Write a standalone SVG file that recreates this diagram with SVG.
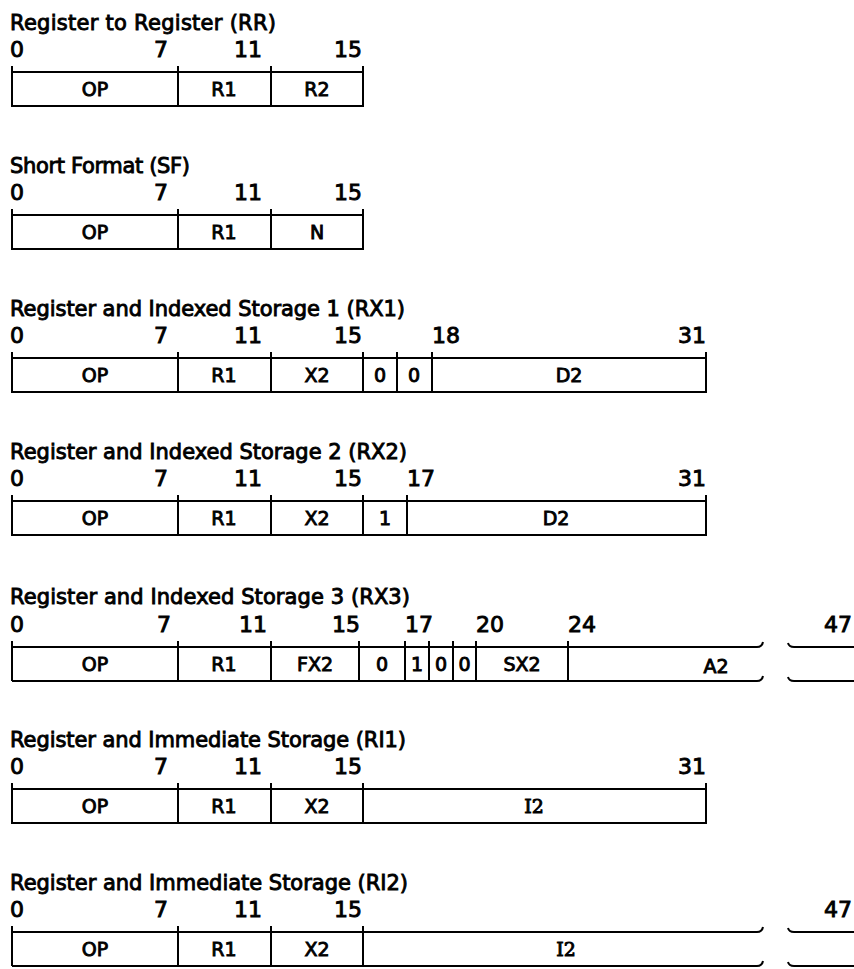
<svg xmlns="http://www.w3.org/2000/svg" width="854" height="969" viewBox="0 0 854 969">
<style>
text{font-family:"DejaVu Sans","Liberation Sans",sans-serif;fill:#000;stroke:#000;stroke-width:0.9px}
.ttl{font-size:21px}
.num{font-size:22px}
.e{text-anchor:end}
.fld{font-size:19px;text-anchor:middle}
.sf{font-family:"DejaVu Serif","Liberation Serif",serif}
.ln{stroke:#000;stroke-width:2;fill:none}
</style>
<rect width="854" height="969" fill="#fff"/>

<g id="rr">
<text class="ttl" x="10" y="30" textLength="266" lengthAdjust="spacing">Register to Register (RR)</text>
<text class="num" x="10" y="57">0</text>
<text class="num e" x="168" y="57">7</text>
<text class="num e" x="262" y="57">11</text>
<text class="num e" x="362" y="57">15</text>
<path class="ln" d="M12,66V106H363V66M12,72H363M178,66V106M271,66V106"/>
<text class="fld" x="95" y="96">OP</text>
<text class="fld" x="224" y="96">R1</text>
<text class="fld" x="317" y="96">R2</text>
</g>

<g id="sf">
<text class="ttl" x="10" y="173" textLength="180" lengthAdjust="spacing">Short Format (SF)</text>
<text class="num" x="10" y="200">0</text>
<text class="num e" x="168" y="200">7</text>
<text class="num e" x="262" y="200">11</text>
<text class="num e" x="362" y="200">15</text>
<path class="ln" d="M12,209V249H363V209M12,215H363M178,209V249M271,209V249"/>
<text class="fld" x="95" y="239">OP</text>
<text class="fld" x="224" y="239">R1</text>
<text class="fld" x="317" y="239">N</text>
</g>

<g id="rx1">
<text class="ttl" x="10" y="316" textLength="395" lengthAdjust="spacing">Register and Indexed Storage 1 (RX1)</text>
<text class="num" x="10" y="343">0</text>
<text class="num e" x="168" y="343">7</text>
<text class="num e" x="262" y="343">11</text>
<text class="num e" x="362" y="343">15</text>
<text class="num" x="432" y="343">18</text>
<text class="num e" x="706" y="343">31</text>
<path class="ln" d="M12,352V392H706V352M12,358H706M178,352V392M271,352V392M363,352V392M397,352V392M432,352V392"/>
<text class="fld" x="95" y="382">OP</text>
<text class="fld" x="224" y="382">R1</text>
<text class="fld" x="317" y="382">X2</text>
<text class="fld" x="380" y="382">0</text>
<text class="fld" x="414" y="382">0</text>
<text class="fld" x="569" y="382">D2</text>
</g>

<g id="rx2">
<text class="ttl" x="10" y="459" textLength="397" lengthAdjust="spacing">Register and Indexed Storage 2 (RX2)</text>
<text class="num" x="10" y="486">0</text>
<text class="num e" x="168" y="486">7</text>
<text class="num e" x="262" y="486">11</text>
<text class="num e" x="362" y="486">15</text>
<text class="num" x="407" y="486">17</text>
<text class="num e" x="706" y="486">31</text>
<path class="ln" d="M12,495V535H706V495M12,501H706M178,495V535M271,495V535M363,495V535M407,495V535"/>
<text class="fld" x="95" y="525">OP</text>
<text class="fld" x="224" y="525">R1</text>
<text class="fld" x="317" y="525">X2</text>
<text class="fld" x="385" y="525">1</text>
<text class="fld" x="556" y="525">D2</text>
</g>

<g id="rx3">
<text class="ttl" x="10" y="604" textLength="400" lengthAdjust="spacing">Register and Indexed Storage 3 (RX3)</text>
<text class="num" x="10" y="632">0</text>
<text class="num e" x="171" y="632">7</text>
<text class="num e" x="267" y="632">11</text>
<text class="num e" x="360" y="632">15</text>
<text class="num" x="405" y="632">17</text>
<text class="num" x="476" y="632">20</text>
<text class="num" x="568" y="632">24</text>
<text class="num e" x="852" y="632">47</text>
<path class="ln" d="M12,641V681M178,641V681M271,641V681M359,641V681M405,641V681M429,641V681M453,641V681M476,641V681M568,641V681"/>
<path class="ln" d="M12,647H757q5,0 6,-5M12,681H757q5,0 6,-5M788,643q1,4 6,4H854M788,677q1,4 6,4H854"/>
<text class="fld" x="95" y="671">OP</text>
<text class="fld" x="224" y="671">R1</text>
<text class="fld" x="315" y="671">FX2</text>
<text class="fld" x="382" y="671">0</text>
<text class="fld" x="417" y="671">1</text>
<text class="fld" x="441" y="671">0</text>
<text class="fld" x="464.5" y="671">0</text>
<text class="fld" x="522" y="671">SX2</text>
<text class="fld" x="716" y="673">A2</text>
</g>

<g id="ri1">
<text class="ttl" x="10" y="747" textLength="396" lengthAdjust="spacing">Register and Immediate Storage (RI1)</text>
<text class="num" x="10" y="774">0</text>
<text class="num e" x="168" y="774">7</text>
<text class="num e" x="262" y="774">11</text>
<text class="num e" x="362" y="774">15</text>
<text class="num e" x="706" y="774">31</text>
<path class="ln" d="M12,783V823H706V783M12,789H706M178,783V823M271,783V823M363,783V823"/>
<text class="fld" x="95" y="813">OP</text>
<text class="fld" x="224" y="813">R1</text>
<text class="fld" x="317" y="813">X2</text>
<text class="fld sf" x="534" y="813">I2</text>
</g>

<g id="ri2">
<text class="ttl" x="10" y="890" textLength="398" lengthAdjust="spacing">Register and Immediate Storage (RI2)</text>
<text class="num" x="10" y="917">0</text>
<text class="num e" x="168" y="917">7</text>
<text class="num e" x="262" y="917">11</text>
<text class="num e" x="362" y="917">15</text>
<text class="num e" x="852" y="917">47</text>
<path class="ln" d="M12,926V966M178,926V966M271,926V966M363,926V966"/>
<path class="ln" d="M12,932H757q5,0 6,-5M12,966H757q5,0 6,-5M788,928q1,4 6,4H854M788,962q1,4 6,4H854"/>
<text class="fld" x="95" y="956">OP</text>
<text class="fld" x="224" y="956">R1</text>
<text class="fld" x="317" y="956">X2</text>
<text class="fld sf" x="566" y="956">I2</text>
</g>
</svg>
